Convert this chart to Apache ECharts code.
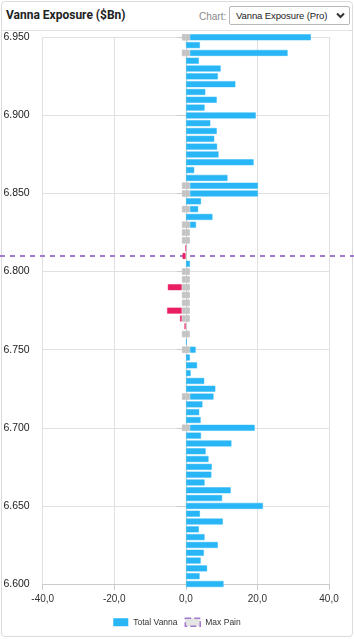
<!DOCTYPE html>
<html>
<head>
<meta charset="utf-8">
<script src="https://cdn.jsdelivr.net/npm/echarts@6/dist/echarts.min.js"></script>
<style>
  html, body { margin: 0; padding: 0; background: #fff; }
  body { width: 354px; height: 639px; position: relative; overflow: hidden; font-family: 'Liberation Sans', Arial, sans-serif; }
  .card { position: absolute; left: 1px; top: 1px; width: 350px; height: 634px; border: 1px solid #dcdcdc; border-radius: 4px; }
  .head { position: absolute; left: 2px; top: 2px; width: 350px; height: 28px; border-bottom: 1px solid #e2e2e2; }
  .title { position: absolute; left: 4px; top: 6px; font: bold 12px Roboto, sans-serif; color: #222; }
  .pick-label { position: absolute; left: 197px; top: 9px; font-size: 10px; color: #8a8a8a; }
  .pick { position: absolute; left: 227px; top: 4px; width: 119px; height: 17px; border: 1px solid #b8b8b8; border-radius: 2px; font-size: 9.5px; color: #222; line-height: 17px; }
  .pick span { position: absolute; left: 6px; top: 0; letter-spacing: -0.1px; }
  .pick svg { position: absolute; right: 4px; top: 5px; }
  #chart { position: absolute; left: 0; top: 31px; width: 354px; height: 608px; }
</style>
</head>
<body>
<div class="card"></div>
<div class="head">
  <div class="title">Vanna Exposure ($Bn)</div>
  <div class="pick-label">Chart:</div>
  <div class="pick"><span>Vanna Exposure (Pro)</span>
    <svg width="9" height="7" viewBox="0 0 9 7"><polyline points="1,1.5 4.5,5 8,1.5" fill="none" stroke="#333" stroke-width="2"/></svg>
  </div>
</div>
<div id="chart"></div>
<script>
// strikes, top to bottom
const strikes = [
  '6.950', '6.945', '6.940', '6.935', '6.930', '6.925', '6.920', '6.915', '6.910', '6.905',
  '6.900', '6.895', '6.890', '6.885', '6.880', '6.875', '6.870', '6.865', '6.860', '6.855',
  '6.850', '6.845', '6.840', '6.835', '6.830', '6.825', '6.820', '6.815', '6.810', '6.805',
  '6.800', '6.795', '6.790', '6.785', '6.780', '6.775', '6.770', '6.765', '6.760', '6.755',
  '6.750', '6.745', '6.740', '6.735', '6.730', '6.725', '6.720', '6.715', '6.710', '6.705',
  '6.700', '6.695', '6.690', '6.685', '6.680', '6.675', '6.670', '6.665', '6.660', '6.655',
  '6.650', '6.645', '6.640', '6.635', '6.630', '6.625', '6.620', '6.615', '6.610', '6.605',
  '6.600'
];

const totalVanna = [
  33.9, 4.0, 27.4, 3.7, 9.8, 9.0, 13.9, 5.5, 8.7, 5.3,
  19.6, 6.9, 8.7, 8.0, 8.8, 9.2, 19.0, 2.4, 11.7, 19.1,
  19.1, 4.3, 2.4, 7.5, 1.8, null, null, -0.1, -1.0, 1.2,
  null, null, -4.0, null, null, -4.2, -0.6, -0.45, null, 0.3,
  1.7, 1.2, 3.2, 1.4, 5.2, 8.3, 6.7, 4.7, 3.8, 4.2,
  18.2, 4.3, 12.8, 5.6, 6.4, 7.3, 7.2, 5.3, 12.6, 10.2,
  21.6, 4.0, 10.4, 3.7, 5.3, 9.0, 5.1, 4.2, 6.0, 3.9,
  10.6
];

// grey blocks straddling zero (half width, in $Bn)
const greyBlock = [
  1.1, null, 1.1, null, null, null, null, null, null, null,
  null, null, null, null, null, null, null, null, null, 1.1,
  1.1, null, 1.1, null, 1.1, 1.1, 1.1, null, null, null,
  1.1, 1.1, 1.1, 1.1, 1.1, 1.1, 1.1, null, 1.1, null,
  1.1, null, null, null, null, null, 1.1, null, null, null,
  1.1, null, null, null, null, null, null, null, null, null,
  null, null, null, null, null, null, null, null, null, null,
  null
];

const maxPain = '6.810';
const xTicks = [-40, -20, 0, 20, 40];

const BLUE = '#29b6f6';
const RED = '#e91e63';
const GREY = '#c4c4c4';
const PURPLE = '#a07acb';

const chart = echarts.init(document.getElementById('chart'));

const vannaData = totalVanna.map((v) => {
  if (v == null) return '-';
  const c = v < 0 ? RED : BLUE;
  const b = v < 0 ? 'rgba(233,30,99,0.45)' : 'rgba(41,182,246,0.45)';
  return { value: v, itemStyle: { color: c, borderColor: b, borderWidth: 1 } };
});

// same-colour border hides the seam where the two grey halves meet at zero
const greyStyle = { color: GREY, borderColor: GREY, borderWidth: 0.8 };

chart.setOption({
  animation: false,
  textStyle: { fontFamily: 'Liberation Sans, Arial, sans-serif' },
  grid: { left: 42.7, right: 25, top: 6.3, bottom: 55 },
  legend: {
    bottom: 7,
    left: 'center',
    itemWidth: 15,
    itemHeight: 8,
    itemGap: 7,
    selectedMode: false,
    textStyle: { fontSize: 8.5, color: '#333' },
    data: [
      { name: 'Total Vanna', icon: 'rect', itemStyle: { color: BLUE } },
      { name: 'Max Pain', icon: 'rect', itemStyle: { color: '#e4e4e4', borderColor: PURPLE, borderWidth: 1.5, borderType: 'dashed' } }
    ]
  },
  xAxis: {
    type: 'value',
    min: xTicks[0],
    max: xTicks[xTicks.length - 1],
    interval: 20,
    axisLine: { show: true, lineStyle: { color: '#cccccc' } },
    axisTick: { show: true, length: 6, lineStyle: { color: '#cccccc' } },
    axisLabel: { margin: 10, fontSize: 10, color: '#333', formatter: (v) => v.toFixed(1).replace('.', ',') },
    splitLine: { lineStyle: { color: '#e0e0e0' } }
  },
  yAxis: {
    type: 'category',
    data: strikes,
    inverse: true,
    boundaryGap: false,
    axisLine: { lineStyle: { color: '#cccccc' } },
    axisTick: { interval: 9, length: 9, lineStyle: { color: '#cccccc' } },
    axisLabel: { interval: 9, margin: 13, fontSize: 10.5, color: '#222' },
    splitLine: { show: true, interval: 9, lineStyle: { color: '#e0e0e0' } }
  },
  series: [
    { name: 'greyUp', type: 'bar', stack: 'v', barWidth: 6.5, clip: false, silent: true,
      data: greyBlock.map((v) => (v == null ? '-' : v)), itemStyle: greyStyle },
    { name: 'greyDown', type: 'bar', stack: 'v', barWidth: 6.5, clip: false, silent: true,
      data: greyBlock.map((v) => (v == null ? '-' : -v)), itemStyle: greyStyle },
    { name: 'Total Vanna', type: 'bar', stack: 'v', barWidth: 6.5, clip: false, data: vannaData,
      itemStyle: { color: BLUE } },
    { name: 'Max Pain', type: 'bar', stack: 'v', barWidth: 6.5, data: [],
      itemStyle: { color: '#e4e4e4' } }
  ]
});

const yPx = chart.convertToPixel({ yAxisIndex: 0 }, maxPain);
chart.setOption({
  graphic: [{
    type: 'line',
    silent: true,
    z: 1,
    shape: { x1: 0, y1: yPx, x2: 354, y2: yPx },
    style: { stroke: PURPLE, lineWidth: 2, lineDash: [5, 5] }
  }]
});
</script>
</body>
</html>
